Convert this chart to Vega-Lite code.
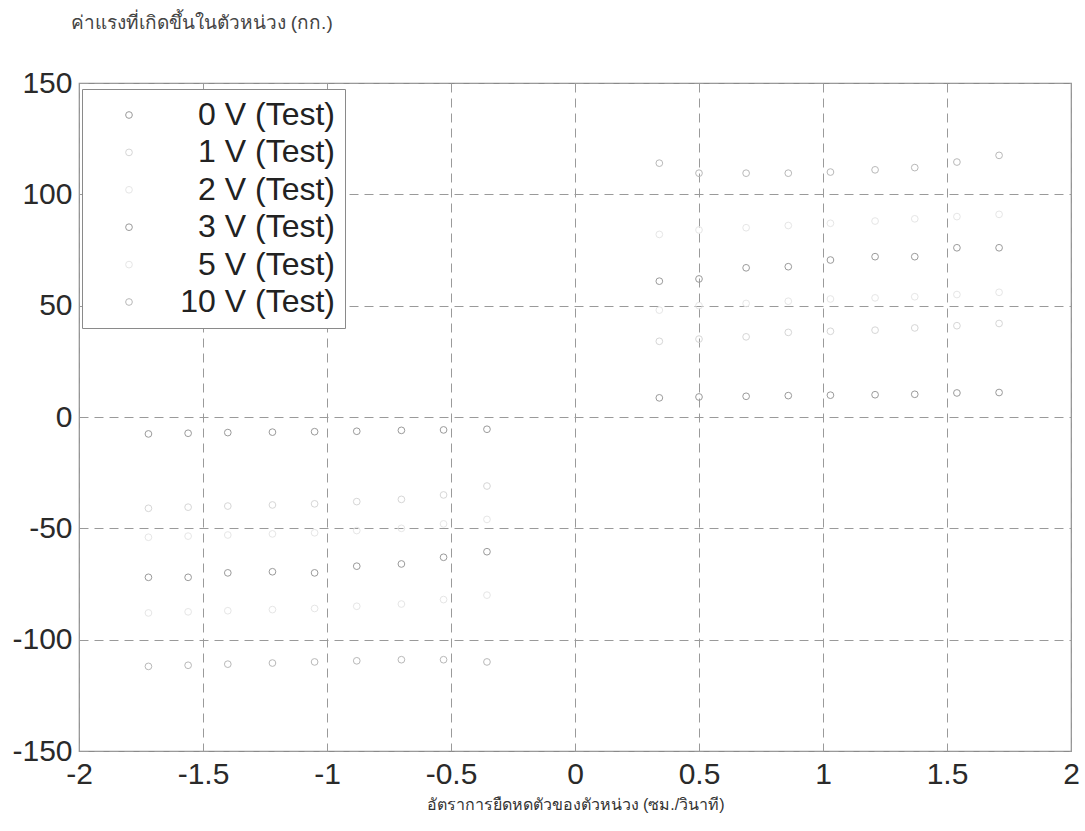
{
  "$schema": "https://vega.github.io/schema/vega-lite/v6.json",
  "width": 992,
  "height": 668,
  "autosize": "none",
  "padding": {"left": 79, "top": 83, "right": 14, "bottom": 80},
  "background": "white",
  "config": {
    "font": "Liberation Sans",
    "view": {"stroke": "#8a8a8a", "strokeWidth": 1.2}
  },
  "data": {
    "values": [
      {"s": "0 V (Test)", "x": -1.72, "y": -7.6}, {"s": "0 V (Test)", "x": -1.56, "y": -7.3}, {"s": "0 V (Test)", "x": -1.40, "y": -7.0}, {"s": "0 V (Test)", "x": -1.22, "y": -6.8}, {"s": "0 V (Test)", "x": -1.05, "y": -6.6}, {"s": "0 V (Test)", "x": -0.88, "y": -6.4}, {"s": "0 V (Test)", "x": -0.70, "y": -6.0}, {"s": "0 V (Test)", "x": -0.53, "y": -5.8}, {"s": "0 V (Test)", "x": -0.355, "y": -5.5},
      {"s": "0 V (Test)", "x": 0.34, "y": 8.6}, {"s": "0 V (Test)", "x": 0.50, "y": 9.0}, {"s": "0 V (Test)", "x": 0.69, "y": 9.3}, {"s": "0 V (Test)", "x": 0.86, "y": 9.6}, {"s": "0 V (Test)", "x": 1.03, "y": 9.8}, {"s": "0 V (Test)", "x": 1.21, "y": 10.0}, {"s": "0 V (Test)", "x": 1.37, "y": 10.2}, {"s": "0 V (Test)", "x": 1.54, "y": 10.8}, {"s": "0 V (Test)", "x": 1.71, "y": 11.0},
      {"s": "1 V (Test)", "x": -1.72, "y": -41}, {"s": "1 V (Test)", "x": -1.56, "y": -40.5}, {"s": "1 V (Test)", "x": -1.40, "y": -40}, {"s": "1 V (Test)", "x": -1.22, "y": -39.5}, {"s": "1 V (Test)", "x": -1.05, "y": -39}, {"s": "1 V (Test)", "x": -0.88, "y": -38}, {"s": "1 V (Test)", "x": -0.70, "y": -37}, {"s": "1 V (Test)", "x": -0.53, "y": -35}, {"s": "1 V (Test)", "x": -0.355, "y": -31},
      {"s": "1 V (Test)", "x": 0.34, "y": 34}, {"s": "1 V (Test)", "x": 0.50, "y": 35}, {"s": "1 V (Test)", "x": 0.69, "y": 36}, {"s": "1 V (Test)", "x": 0.86, "y": 38}, {"s": "1 V (Test)", "x": 1.03, "y": 38.5}, {"s": "1 V (Test)", "x": 1.21, "y": 39}, {"s": "1 V (Test)", "x": 1.37, "y": 40}, {"s": "1 V (Test)", "x": 1.54, "y": 41}, {"s": "1 V (Test)", "x": 1.71, "y": 42},
      {"s": "2 V (Test)", "x": -1.72, "y": -54}, {"s": "2 V (Test)", "x": -1.56, "y": -53.5}, {"s": "2 V (Test)", "x": -1.40, "y": -53}, {"s": "2 V (Test)", "x": -1.22, "y": -52.5}, {"s": "2 V (Test)", "x": -1.05, "y": -52}, {"s": "2 V (Test)", "x": -0.88, "y": -51}, {"s": "2 V (Test)", "x": -0.70, "y": -50}, {"s": "2 V (Test)", "x": -0.53, "y": -48}, {"s": "2 V (Test)", "x": -0.355, "y": -46},
      {"s": "2 V (Test)", "x": 0.34, "y": 48}, {"s": "2 V (Test)", "x": 0.50, "y": 50}, {"s": "2 V (Test)", "x": 0.69, "y": 51}, {"s": "2 V (Test)", "x": 0.86, "y": 52}, {"s": "2 V (Test)", "x": 1.03, "y": 53}, {"s": "2 V (Test)", "x": 1.21, "y": 53.5}, {"s": "2 V (Test)", "x": 1.37, "y": 54}, {"s": "2 V (Test)", "x": 1.54, "y": 55}, {"s": "2 V (Test)", "x": 1.71, "y": 56},
      {"s": "3 V (Test)", "x": -1.72, "y": -72}, {"s": "3 V (Test)", "x": -1.56, "y": -72}, {"s": "3 V (Test)", "x": -1.40, "y": -70}, {"s": "3 V (Test)", "x": -1.22, "y": -69.5}, {"s": "3 V (Test)", "x": -1.05, "y": -70}, {"s": "3 V (Test)", "x": -0.88, "y": -67}, {"s": "3 V (Test)", "x": -0.70, "y": -66}, {"s": "3 V (Test)", "x": -0.53, "y": -63}, {"s": "3 V (Test)", "x": -0.355, "y": -60.5},
      {"s": "3 V (Test)", "x": 0.34, "y": 61}, {"s": "3 V (Test)", "x": 0.50, "y": 62}, {"s": "3 V (Test)", "x": 0.69, "y": 67}, {"s": "3 V (Test)", "x": 0.86, "y": 67.5}, {"s": "3 V (Test)", "x": 1.03, "y": 70.5}, {"s": "3 V (Test)", "x": 1.21, "y": 72}, {"s": "3 V (Test)", "x": 1.37, "y": 72}, {"s": "3 V (Test)", "x": 1.54, "y": 76}, {"s": "3 V (Test)", "x": 1.71, "y": 76},
      {"s": "5 V (Test)", "x": -1.72, "y": -88}, {"s": "5 V (Test)", "x": -1.56, "y": -87.5}, {"s": "5 V (Test)", "x": -1.40, "y": -87}, {"s": "5 V (Test)", "x": -1.22, "y": -86.5}, {"s": "5 V (Test)", "x": -1.05, "y": -86}, {"s": "5 V (Test)", "x": -0.88, "y": -85}, {"s": "5 V (Test)", "x": -0.70, "y": -84}, {"s": "5 V (Test)", "x": -0.53, "y": -82}, {"s": "5 V (Test)", "x": -0.355, "y": -80},
      {"s": "5 V (Test)", "x": 0.34, "y": 82}, {"s": "5 V (Test)", "x": 0.50, "y": 84}, {"s": "5 V (Test)", "x": 0.69, "y": 85}, {"s": "5 V (Test)", "x": 0.86, "y": 86}, {"s": "5 V (Test)", "x": 1.03, "y": 87}, {"s": "5 V (Test)", "x": 1.21, "y": 88}, {"s": "5 V (Test)", "x": 1.37, "y": 89}, {"s": "5 V (Test)", "x": 1.54, "y": 90}, {"s": "5 V (Test)", "x": 1.71, "y": 91},
      {"s": "10 V (Test)", "x": -1.72, "y": -112}, {"s": "10 V (Test)", "x": -1.56, "y": -111.5}, {"s": "10 V (Test)", "x": -1.40, "y": -111}, {"s": "10 V (Test)", "x": -1.22, "y": -110.5}, {"s": "10 V (Test)", "x": -1.05, "y": -110}, {"s": "10 V (Test)", "x": -0.88, "y": -109.5}, {"s": "10 V (Test)", "x": -0.70, "y": -109}, {"s": "10 V (Test)", "x": -0.53, "y": -109}, {"s": "10 V (Test)", "x": -0.355, "y": -110},
      {"s": "10 V (Test)", "x": 0.34, "y": 114}, {"s": "10 V (Test)", "x": 0.50, "y": 109.5}, {"s": "10 V (Test)", "x": 0.69, "y": 109.5}, {"s": "10 V (Test)", "x": 0.86, "y": 109.5}, {"s": "10 V (Test)", "x": 1.03, "y": 110}, {"s": "10 V (Test)", "x": 1.21, "y": 111}, {"s": "10 V (Test)", "x": 1.37, "y": 112}, {"s": "10 V (Test)", "x": 1.54, "y": 114.5}, {"s": "10 V (Test)", "x": 1.71, "y": 117.5}
    ]
  },
  "mark": {"type": "point", "shape": "circle", "filled": false, "size": 45, "strokeWidth": 1, "opacity": 1},
  "encoding": {
    "x": {
      "field": "x", "type": "quantitative",
      "scale": {"domain": [-2, 2], "nice": false, "zero": false},
      "axis": {
        "values": [-2, -1.5, -1, -0.5, 0, 0.5, 1, 1.5, 2],
        "labelExpr": "toString(datum.value)",
        "title": "อัตราการยืดหดตัวของตัวหน่วง (ซม./วินาที)",
        "titleFontSize": 16, "titleFontWeight": "normal", "titleColor": "#333333", "titlePadding": 7,
        "labelFontSize": 30, "labelColor": "#2a2a2a", "labelPadding": 8, "labelFlush": false,
        "domain": false, "ticks": false,
        "grid": true, "gridColor": "#9a9a9a", "gridDash": [9, 6], "gridWidth": 1
      }
    },
    "y": {
      "field": "y", "type": "quantitative",
      "scale": {"domain": [-150, 150], "nice": false, "zero": false},
      "axis": {
        "values": [-150, -100, -50, 0, 50, 100, 150],
        "labelExpr": "toString(datum.value)",
        "title": "ค่าแรงที่เกิดขึ้นในตัวหน่วง (กก.)",
        "titleAngle": 0, "titleAlign": "left", "titleBaseline": "middle",
        "titleX": -9, "titleY": -61,
        "titleFontSize": 19, "titleFontWeight": "normal", "titleColor": "#444444",
        "labelFontSize": 30, "labelColor": "#2a2a2a", "labelPadding": 7,
        "domain": false, "ticks": false,
        "grid": true, "gridColor": "#9a9a9a", "gridDash": [9, 6], "gridWidth": 1
      }
    },
    "color": {
      "field": "s", "type": "nominal",
      "sort": ["0 V (Test)", "1 V (Test)", "2 V (Test)", "3 V (Test)", "5 V (Test)", "10 V (Test)"],
      "scale": {
        "domain": ["0 V (Test)", "1 V (Test)", "2 V (Test)", "3 V (Test)", "5 V (Test)", "10 V (Test)"],
        "range": ["#9a9a9a", "#d6d6d6", "#e6e6e6", "#9a9a9a", "#e6e6e6", "#b8b8b8"]
      },
      "legend": {
        "title": null,
        "orient": "none", "legendX": 3, "legendY": 6,
        "fillColor": "white", "strokeColor": "#8a8a8a",
        "padding": 10,
        "symbolType": "circle", "symbolSize": 45, "symbolStrokeWidth": 1, "symbolFillColor": "transparent",
        "symbolOffset": 21,
        "labelFontSize": 32, "labelColor": "#222222", "labelAlign": "right",
        "labelOffset": 190, "labelLimit": 400,
        "rowPadding": 5.4
      }
    }
  }
}
